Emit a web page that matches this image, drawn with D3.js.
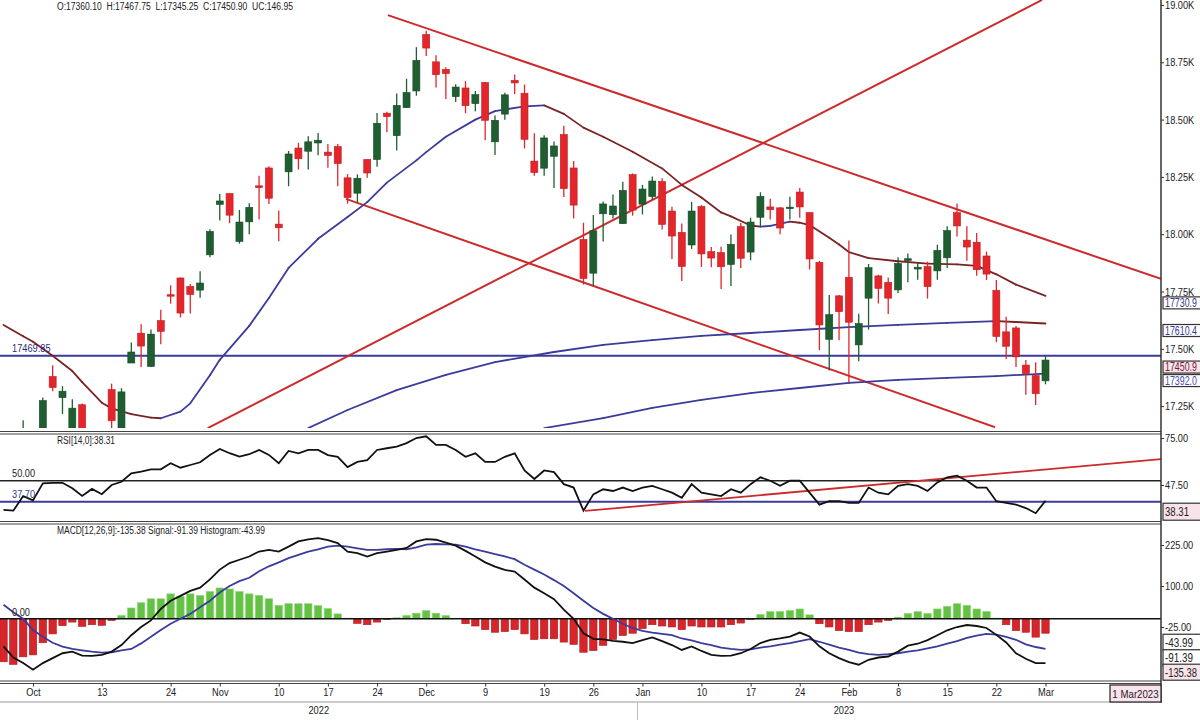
<!DOCTYPE html>
<html><head><meta charset="utf-8">
<script src="https://cdn.jsdelivr.net/npm/d3@7"></script>
<style>
body{margin:0;background:#fff}
svg{display:block}
text{font-family:"Liberation Sans Narrow","Arial Narrow","Liberation Sans",Arial,sans-serif}
</style></head>
<body><svg id="c" width="1200" height="720"></svg>
<script>
// ---------- DATA ----------
const dates = ["2022-09-28","2022-09-29","2022-09-30","2022-10-03","2022-10-04","2022-10-06","2022-10-07","2022-10-10","2022-10-11","2022-10-12","2022-10-13","2022-10-14","2022-10-17","2022-10-18","2022-10-19","2022-10-20","2022-10-21","2022-10-24","2022-10-25","2022-10-27","2022-10-28","2022-10-31","2022-11-01","2022-11-02","2022-11-03","2022-11-04","2022-11-07","2022-11-09","2022-11-10","2022-11-11","2022-11-14","2022-11-15","2022-11-16","2022-11-17","2022-11-18","2022-11-21","2022-11-22","2022-11-23","2022-11-24","2022-11-25","2022-11-28","2022-11-29","2022-11-30","2022-12-01","2022-12-02","2022-12-05","2022-12-06","2022-12-07","2022-12-08","2022-12-09","2022-12-12","2022-12-13","2022-12-14","2022-12-15","2022-12-16","2022-12-19","2022-12-20","2022-12-21","2022-12-22","2022-12-23","2022-12-26","2022-12-27","2022-12-28","2022-12-29","2022-12-30","2023-01-02","2023-01-03","2023-01-04","2023-01-05","2023-01-06","2023-01-09","2023-01-10","2023-01-11","2023-01-12","2023-01-13","2023-01-16","2023-01-17","2023-01-18","2023-01-19","2023-01-20","2023-01-23","2023-01-24","2023-01-25","2023-01-27","2023-01-30","2023-01-31","2023-02-01","2023-02-02","2023-02-03","2023-02-06","2023-02-07","2023-02-08","2023-02-09","2023-02-10","2023-02-13","2023-02-14","2023-02-15","2023-02-16","2023-02-17","2023-02-20","2023-02-21","2023-02-22","2023-02-23","2023-02-24","2023-02-27","2023-02-28","2023-03-01"];
const openP  = [16870,16993,16799,17102,17148,17379,17287,17095,17256,17025,17087,17322,17144,17438,17568,17423,17623,17736,17809,17772,17756,17910,18130,18177,17968,18054,18211,18289,18044,18272,18376,18362,18398,18358,18382,18246,18179,18326,18326,18528,18430,18552,18625,18871,18752,18719,18600,18638,18570,18662,18403,18524,18671,18615,18319,18288,18340,18435,18289,17977,17830,18089,18085,18046,18260,18131,18164,18230,18101,18008,17953,18121,17924,17920,17868,18033,17922,18074,18119,18115,18118,18184,18094,17877,17541,17731,17812,17517,17721,17818,17790,17757,17885,17848,17859,17840,17897,18094,17974,17965,17905,17755,17574,17591,17429,17383,17360.10];
const highP  = [17031,17026,17188,17114,17288,17428,17337,17280,17261,17143,17112,17348,17328,17527,17607,17584,17670,17777,17811,17783,17838,18022,18175,18178,18106,18135,18255,18297,18103,18363,18399,18427,18442,18394,18394,18262,18261,18326,18529,18534,18614,18678,18816,18888,18781,18728,18654,18668,18625,18664,18518,18617,18697,18653,18440,18432,18404,18473,18319,18050,18084,18143,18173,18229,18265,18215,18252,18244,18120,18047,18141,18127,17944,17945,17999,18049,18072,18183,18155,18119,18163,18202,18095,17884,17735,17735,17972,17653,17870,17823,17811,17899,17916,17876,17880,17954,18035,18134,18035,18005,17924,17800,17640,17599,17451,17441,17467.75];
const lowP   = [16820,16782,16748,16855,17118,17315,17216,17064,16950,16960,16956,17072,17099,17438,17421,17421,17520,17697,17637,17654,17723,17899,18060,18048,17959,18000,18064,18132,17969,18209,18282,18282,18344,18290,18209,18133,18137,18246,18294,18445,18365,18552,18604,18778,18640,18590,18577,18528,18536,18410,18346,18499,18612,18374,18255,18255,18202,18162,18069,17780,17774,17968,18069,18045,18081,18086,18149,18020,17892,17796,17936,17857,17856,17761,17774,17853,17886,18032,18064,18000,18064,18072,17846,17494,17405,17537,17353,17446,17584,17698,17652,17744,17790,17801,17719,17801,17853,17990,17884,17819,17800,17529,17455,17421,17299,17255,17345.25];
const closeP = [16858,16818,17094,16887,17274,17331,17315,17241,16984,17124,17014,17186,17312,17486,17512,17564,17576,17731,17656,17737,17787,18012,18145,18083,18053,18117,18203,18157,18028,18350,18329,18403,18410,18344,18308,18160,18244,18267,18484,18513,18562,18618,18758,18812,18696,18701,18642,18561,18609,18497,18497,18608,18660,18414,18269,18420,18385,18199,18127,17807,18015,18132,18123,18191,18105,18197,18232,18043,17992,17859,18101,17914,17896,17858,17956,17895,18053,18165,18107,18027,18118,18119,17892,17604,17649,17662,17616,17610,17854,17764,17721,17872,17893,17856,17771,17929,18016,18036,17944,17845,17826,17554,17511,17465,17392,17304,17450.90];

// moving averages: [candle index, value]
const ma20Idx = [-3,-1,0,2,4,5,7,8,10,12,13,15,16,18,19,22,24,26,29,32,34,36,39,40,42,45,47,50,52,54,56,58,61,64,66,68,70,71,73,74,75,77,78,79,81,82,83,85,88,91,94,96,98,100,103];
const ma20Val = [17604,17555,17531,17470,17403,17355,17265,17240,17215,17200,17197,17226,17262,17385,17452,17600,17722,17853,17980,18075,18140,18225,18322,18358,18425,18500,18537,18558,18562,18525,18465,18425,18360,18287,18215,18160,18095,18078,18038,18033,18036,18055,18050,18040,17985,17955,17922,17896,17882,17872,17868,17862,17825,17780,17730.9];
const ma50Idx = [28,32,37,42,47,53,58,63,68,73,78,83,88,93,98,100,103];
const ma50Val = [17154,17233,17320,17386,17442,17486,17517,17538,17556,17569,17582,17595,17604,17613,17621,17617,17610.4];
const ma200Idx = [52,58,63,68,73,78,83,88,93,98,103];
const ma200Val = [17154,17198,17242,17277,17307,17329,17351,17364,17373,17381,17392.0];

const hLineLevel = 17469.85;
const trendIdx = [[36.1,114.75],[17.77,102.65],[31.84,97.86]];
const trendVal = [[18956,17805],[17154,19022],[18154,17158]];

const rsi = [33,32.5,41,38.5,48.5,48.8,48.8,45.6,41.1,45.2,42.1,47.5,49.4,54.3,55.3,56.7,56.7,60.2,57.6,59.2,60.8,65.1,68.6,66.1,64.1,65.5,68,65.1,60.2,67.4,66,68,68,65,64,58,61,62,68,69,70,72,75,76,71,71,68,64,66,61,61,64,66,56,51,56,55,48,46,32.5,42,45,44,46,44,46,47,45,43,40,48,43,42,41,45,43,48,52,50,47,50,50,43,36,38,38,37,37,46,43,42,47,48,47,44,49,52,53,50,46,46,38,37,36,34,31,38.31];
const rsiLevels = [50, 37.70];
const rsiTrendIdx = [56.15,114.75];
const rsiTrendVal = [32.3,62.7];

const macd = [-84,-118,-135,-155,-135,-120,-105,-100,-112,-113,-110,-100,-80,-50,-25,-5,30,55,70,85,95,120,150,170,180,190,205,210,205,220,236,242,246,240,231,205,200,190,200,205,210,216,236,243,241,232,223,207,190,172,159,149,144,120,95,78,60,28,0,-44,-61,-63,-67,-70,-74,-65,-57,-68,-80,-95,-84,-98,-110,-113,-112,-105,-92,-74,-64,-60,-54,-42,-54,-84,-105,-120,-132,-140,-125,-118,-115,-100,-82,-76,-65,-50,-35,-25,-19,-22,-28,-49,-72,-105,-122,-135,-135.38];
const signal = [43,20,0,-34,-55,-73,-85,-92,-96,-100,-103,-102,-96,-92,-75,-55,-34,-15,0,15,35,55,80,100,115,125,145,160,172,185,195,205,212,220,223,220,215,210,210,212,213,212,218,226,228,227,226,220,212,205,197,190,182,165,150,135,118,100,78,55,33,15,0,-15,-28,-37,-42,-46,-50,-60,-66,-74,-80,-88,-92,-95,-93,-88,-84,-79,-74,-68,-62,-70,-79,-88,-95,-103,-108,-110,-108,-105,-100,-96,-90,-84,-76,-68,-58,-51,-46,-48,-55,-64,-78,-86,-91.39];
const hist = [-131,-139,-116,-110,-73,-46,-21,-10,-23,-18,-20,-5,10,33,49,61,61,76,68,76,71,83,94,91,83,76,71,61,41,46,46,46,40,31,15,2,-14,-18,-10,-2,3,10,17,25,17,10,0,-15,-22,-33,-41,-39,-33,-46,-63,-61,-61,-71,-78,-102,-97,-81,-63,-51,-44,-30,-18,-22,-25,-33,-22,-25,-25,-25,-18,-13,-2,13,22,22,25,30,12,-15,-25,-36,-39,-39,-18,-10,-5,5,16,22,16,30,38,46,41,30,22,2,-18,-36,-41,-56,-43.99];

const priceTicks = [17250,17500,17750,18000,18250,18500,18750,19000];
const rsiTicks = [47.5,75];
const macdTicks = [-25,100,225];
const xTickIdx = [0,7,14,19,25,30,35,40,46,52,57,62,68,73,78,83,88,93,98,103];
const xTickText = ["Oct","13","24","Nov","10","17","24","Dec","9","19","26","Jan","10","17","24","Feb","8","15","22","Mar"];
const yearText = ["2022","2023"];
const yearStartIdx = [-3.36,61.5];
const yearEndIdx = [61.5,103.5];
const header = "O:17360.10  H:17467.75  L:17345.25  C:17450.90  UC:146.95";

// ---------- LAYOUT ----------
const svg = d3.select("#c");
const RX = 1161;
const P = {top:0, bot:428};
const R = {top:434, bot:521};
const M = {top:524, bot:681};
const UP = "#1f5e30", UPS = "#174a25", DN = "#e4262b", DNS = "#b81f24";
const BLUE = "#3b3b9c", BROWN = "#7a2424", TRED = "#cc2b2b";
const fontN = '"Liberation Sans Narrow","Arial Narrow","Liberation Sans",Arial,sans-serif';

const idx = dates.map((d,k)=>k-3);
const x = d3.scaleLinear().domain([-3.357,114.75]).range([0,RX]);
const yP = d3.scaleLinear().domain([17250,19000]).range([406.1,5]);
const yR = d3.scaleLinear().domain([47.5,75]).range([485,438]);
const yM = d3.scaleLinear().domain([-25,225]).range([627,545]);

const defs = svg.append("defs");
function clip(id,t,b){defs.append("clipPath").attr("id",id).append("rect").attr("x",0).attr("y",t).attr("width",RX).attr("height",b-t);}
clip("cp",P.top,P.bot); clip("cr",R.top,R.bot); clip("cm",M.top,M.bot);

// ---------- PRICE PANEL ----------
const gp = svg.append("g").attr("clip-path","url(#cp)");
gp.append("line").attr("x1",0).attr("x2",RX).attr("y1",yP(hLineLevel)).attr("y2",yP(hLineLevel))
  .attr("stroke",BLUE).attr("stroke-width",2);
trendIdx.forEach((ti,j)=>{
  gp.append("line").attr("x1",x(ti[0])).attr("x2",x(ti[1]))
    .attr("y1",yP(trendVal[j][0])).attr("y2",yP(trendVal[j][1]))
    .attr("stroke",TRED).attr("stroke-width",2);
});
function maLine(ix,vals){
  for(let k=1;k<ix.length;k++){
    gp.append("line").attr("x1",x(ix[k-1])).attr("x2",x(ix[k]))
      .attr("y1",yP(vals[k-1])).attr("y2",yP(vals[k]))
      .attr("stroke", vals[k]>=vals[k-1]?BLUE:BROWN).attr("stroke-width",1.8).attr("stroke-linecap","round");
  }
}
maLine(ma20Idx,ma20Val); maLine(ma50Idx,ma50Val); maLine(ma200Idx,ma200Val);
const cw = 7;
const cg = gp.selectAll("g.c").data(idx).enter().append("g");
cg.append("line").attr("x1",i=>x(i)).attr("x2",i=>x(i))
  .attr("y1",(i,k)=>yP(highP[k])).attr("y2",(i,k)=>yP(lowP[k]))
  .attr("stroke",(i,k)=>closeP[k]>=openP[k]?UP:DN).attr("stroke-width",1.3);
cg.append("rect").attr("x",i=>x(i)-cw/2)
  .attr("y",(i,k)=>yP(Math.max(openP[k],closeP[k])))
  .attr("width",cw)
  .attr("height",(i,k)=>Math.max(1.5,yP(Math.min(openP[k],closeP[k]))-yP(Math.max(openP[k],closeP[k]))))
  .attr("fill",(i,k)=>closeP[k]>=openP[k]?UP:DN)
  .attr("stroke",(i,k)=>closeP[k]>=openP[k]?UPS:DNS).attr("stroke-width",0.6);

svg.append("text").attr("x",12).attr("y",yP(hLineLevel)-4).attr("font-size",11).attr("fill","#2e2e78").text(hLineLevel.toFixed(2));
svg.append("text").attr("x",57).attr("y",10).attr("font-size",10).attr("fill","#222").attr("data-w",236).style("white-space","pre").text(header);

// ---------- RSI PANEL ----------
const gr = svg.append("g").attr("clip-path","url(#cr)");
gr.append("line").attr("x1",0).attr("x2",RX).attr("y1",yR(rsiLevels[0])).attr("y2",yR(rsiLevels[0])).attr("stroke","#222").attr("stroke-width",1.6);
gr.append("line").attr("x1",0).attr("x2",RX).attr("y1",yR(rsiLevels[1])).attr("y2",yR(rsiLevels[1])).attr("stroke",BLUE).attr("stroke-width",2);
gr.append("line").attr("x1",x(rsiTrendIdx[0])).attr("x2",x(rsiTrendIdx[1])).attr("y1",yR(rsiTrendVal[0])).attr("y2",yR(rsiTrendVal[1])).attr("stroke",TRED).attr("stroke-width",1.8);
gr.append("path").datum(idx).attr("fill","none").attr("stroke","#111").attr("stroke-width",1.8)
  .attr("d",d3.line().x(i=>x(i)).y((i,k)=>yR(rsi[k])));
svg.append("text").attr("x",57).attr("y",444).attr("font-size",10).attr("fill","#222").attr("data-w",58).text("RSI[14,0]:38.31");
svg.append("text").attr("x",12).attr("y",yR(50)-4).attr("font-size",11).attr("fill","#222").text("50.00");
svg.append("text").attr("x",12).attr("y",yR(37.7)-4).attr("font-size",11).attr("fill","#3b3b8c").text("37.70");

// ---------- MACD PANEL ----------
const gm = svg.append("g").attr("clip-path","url(#cm)");
gm.selectAll("rect.h").data(idx).enter().append("rect")
  .attr("x",i=>x(i)-3.7).attr("width",7.4)
  .attr("y",(i,k)=>yM(Math.max(0,hist[k])))
  .attr("height",(i,k)=>Math.abs(yM(hist[k])-yM(0)))
  .attr("fill",(i,k)=>hist[k]>=0?"#63c244":"#d6262b")
  .attr("stroke",(i,k)=>hist[k]>=0?"#8ad470":"#a81c20").attr("stroke-width",0.6);
gm.append("line").attr("x1",0).attr("x2",RX).attr("y1",yM(0)).attr("y2",yM(0)).attr("stroke","#111").attr("stroke-width",1.6);
gm.append("path").datum(idx).attr("fill","none").attr("stroke",BLUE).attr("stroke-width",1.8)
  .attr("d",d3.line().x(i=>x(i)).y((i,k)=>yM(signal[k])));
gm.append("path").datum(idx).attr("fill","none").attr("stroke","#111").attr("stroke-width",1.8)
  .attr("d",d3.line().x(i=>x(i)).y((i,k)=>yM(macd[k])));
svg.append("text").attr("x",57).attr("y",534).attr("font-size",10).attr("fill","#222").attr("data-w",208).text("MACD[12,26,9]:-135.38 Signal:-91.39 Histogram:-43.99");
svg.append("text").attr("x",12).attr("y",yM(0)-3).attr("font-size",11).attr("fill","#222").text("0.00");

// ---------- FRAMES ----------
[431.5,434,521.5,524,681,683.5].forEach(v=>{
  svg.append("line").attr("x1",0).attr("x2",RX).attr("y1",v).attr("y2",v).attr("stroke","#444").attr("stroke-width",1.2);
});
svg.append("line").attr("x1",RX).attr("x2",RX).attr("y1",0).attr("y2",703).attr("stroke","#333").attr("stroke-width",1.5);
svg.append("line").attr("x1",0).attr("x2",RX).attr("y1",702).attr("y2",702).attr("stroke","#bbb").attr("stroke-width",1.5);

// ---------- AXES ----------
function styleAxis(g){g.select(".domain").remove();g.selectAll("line").attr("stroke","#333");g.selectAll("text").attr("font-family",fontN).attr("font-size",11).attr("fill","#222");}
svg.append("g").attr("transform",`translate(${RX},0)`)
  .call(d3.axisRight(yP).tickValues(priceTicks).tickSize(3).tickPadding(1).tickFormat(d=>(d/1000).toFixed(2)+"K")).call(styleAxis);
svg.append("g").attr("transform",`translate(${RX},0)`)
  .call(d3.axisRight(yR).tickValues(rsiTicks).tickSize(3).tickPadding(1).tickFormat(d=>d.toFixed(2))).call(styleAxis);
svg.append("g").attr("transform",`translate(${RX},0)`)
  .call(d3.axisRight(yM).tickValues(macdTicks).tickSize(3).tickPadding(1).tickFormat(d=>d.toFixed(2))).call(styleAxis);
svg.append("g").attr("transform",`translate(0,683.5)`)
  .call(d3.axisBottom(x).tickValues(xTickIdx).tickSize(3).tickPadding(2).tickFormat((d,k)=>xTickText[k])).call(styleAxis);
yearText.forEach((t,k)=>{
  svg.append("text").attr("x",(x(yearStartIdx[k])+x(yearEndIdx[k]))/2).attr("y",714).attr("text-anchor","middle")
    .attr("font-size",11).attr("fill","#222").text(t);
});
svg.append("line").attr("x1",x(yearStartIdx[1])).attr("x2",x(yearStartIdx[1])).attr("y1",702).attr("y2",720).attr("stroke","#bbb");

// condense normal texts to imitate a narrow face
svg.selectAll("text").each(function(){
  const el = d3.select(this);
  const nat = this.getComputedTextLength();
  if(!nat) return;
  const w = el.attr("data-w") ? +el.attr("data-w") : nat*0.84;
  el.attr("textLength",w).attr("lengthAdjust","spacingAndGlyphs");
});

// ---------- VALUE BOXES (scaled so they stay inside the page) ----------
const serif = '"Liberation Serif","Times New Roman",serif';
function box(cy,h,txt,col,bg,fs,fam,maxW){
  const g = svg.append("g");
  g.append("rect").attr("x",RX+2).attr("y",cy-h/2).attr("width",50).attr("height",h).attr("fill",bg).attr("stroke","#333").attr("stroke-width",1.2);
  const t = g.append("text").attr("font-size",fs).attr("fill",col).attr("font-family",fam).text(txt);
  const nat = t.node().getComputedTextLength();
  const s = Math.min(1, maxW/nat);
  t.attr("transform",`translate(${RX+4},${cy+fs*0.36}) scale(${s},1)`);
}
let prev=-1e9;
[[ma20Val[ma20Val.length-1],"#3a3a8a","#fff"],[ma50Val[ma50Val.length-1],"#3a3a9a","#fff"],[closeP[closeP.length-1],"#7a1a3a","#f8e3ea"],[ma200Val[ma200Val.length-1],"#4a4ab0","#fff"]]
 .forEach(b=>{let c=Math.max(yP(b[0])+7,prev+10);prev=c;box(c,12,b[0].toFixed(1),b[1],b[2],12,serif,32);});
box(yR(rsi[rsi.length-1])+11,17,rsi[rsi.length-1].toFixed(2),"#222","#f8e3ea",12,fontN,24);
box(yM(hist[hist.length-1])+9,16,hist[hist.length-1].toFixed(2),"#222","#fff",12,fontN,28);
box(yM(signal[signal.length-1])+9,16,signal[signal.length-1].toFixed(2),"#222","#fff",12,fontN,28);
box(yM(macd[macd.length-1])+9,16,macd[macd.length-1].toFixed(2),"#222","#f8e3ea",12,fontN,32);
const dg = svg.append("g");
dg.append("rect").attr("x",1110).attr("y",685).attr("width",51).attr("height",17).attr("fill","#fbe3ee").attr("stroke","#222").attr("stroke-width",1.2);
const dt = dg.append("text").attr("font-size",11).attr("fill","#222").text("1 Mar2023");
const dn = dt.node().getComputedTextLength();
dt.attr("transform",`translate(${1135.5-dn*0.44},697.5) scale(0.88,1)`);
</script></body></html>
